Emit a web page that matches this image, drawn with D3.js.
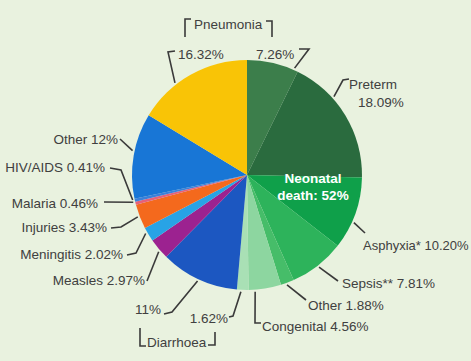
<!DOCTYPE html>
<html lang="en">
<head>
<meta charset="utf-8">
<title>Causes of child deaths</title>
<script src="https://cdn.jsdelivr.net/npm/d3@7"></script>
<style>
  html, body { margin: 0; padding: 0; background: #e9f2df; }
  text { font-family: "Liberation Sans", Arial, sans-serif; font-size: 13.5px; fill: #404040; }
</style>
</head>
<body>
<script>
// slices, clockwise from 12 o'clock
var causes = ["Pneumonia", "Preterm", "Asphyxia*", "Sepsis**", "Other", "Congenital", "Diarrhoea",
              "Diarrhoea", "Measles", "Meningitis", "Injuries", "Malaria", "HIV/AIDS", "Other", "Pneumonia"];
var shares = [7.26, 18.09, 10.20, 7.81, 1.88, 4.56, 1.62,
              11, 2.97, 2.02, 3.43, 0.46, 0.41, 12, 16.32];
var shareLabels = ["7.26%", "18.09%", "10.20%", "7.81%", "1.88%", "4.56%", "1.62%",
                   "11%", "2.97%", "2.02%", "3.43%", "0.46%", "0.41%", "12%", "16.32%"];
var colors = ["#3c7e4b", "#2a6b3e", "#0fa04a", "#2db35b", "#46bd69", "#8dd6a0", "#a9e0b5",
              "#1c57c1", "#9c2290", "#28a3e6", "#f4691d", "#e5617a", "#3b80da", "#1876d6", "#f9c406"];

var w = 471, h = 361;
var cx = 247, cy = 175, r = 115;

var svg = d3.select("body").append("svg")
    .attr("width", w)
    .attr("height", h);

var pie = d3.pie().sort(null).value(function (d) { return d; });
var arc = d3.arc().innerRadius(0).outerRadius(r);
var arcs = pie(shares);

var g = svg.append("g").attr("transform", "translate(" + cx + "," + cy + ")");

g.selectAll("path")
    .data(arcs)
    .enter()
    .append("path")
    .attr("d", arc)
    .attr("fill", function (d, i) { return colors[i]; });

// point on the rim, angle in degrees clockwise from top
function rim(deg, rad) {
    var a = deg * Math.PI / 180;
    return [cx + rad * Math.sin(a), cy - rad * Math.cos(a)];
}

// label layout: slice index, text spot, leader (rim angle + elbow points)
var labels = [
    {i: 14, text: [shareLabels[14]], x: 178, y: 54, anchor: "start", rim: 322, pts: [[168, 52], [175, 51]]},
    {i: 0, text: [shareLabels[0]], x: 256, y: 54, anchor: "start", rim: 24, pts: [[309, 49], [299, 49]]},
    {i: 1, text: [causes[1], shareLabels[1]], x: 349, y: 84, anchor: "start", rim: 48, pts: [[343, 80], [349, 79]]},
    {i: 2, text: [causes[2] + " " + shareLabels[2]], x: 363, y: 245, anchor: "start", rim: 114, pts: [[365, 233]], size: 13},
    {i: 3, text: [causes[3] + " " + shareLabels[3]], x: 342, y: 283, anchor: "start", rim: 142, pts: [[338, 281]]},
    {i: 4, text: [causes[4] + " " + shareLabels[4]], x: 308, y: 305, anchor: "start", rim: 160, pts: [[306, 300]]},
    {i: 5, text: [causes[5] + " " + shareLabels[5]], x: 262, y: 326, anchor: "start", rim: 176, pts: [[255, 323], [261, 323]]},
    {i: 6, text: [shareLabels[6]], x: 228, y: 318, anchor: "end", rim: 183, pts: [[233, 316], [229, 317]]},
    {i: 7, text: [shareLabels[7]], x: 161, y: 309, anchor: "end", rim: 205, pts: [[172, 312], [164, 314]]},
    {i: 8, text: [causes[8] + " " + shareLabels[8]], x: 145, y: 280, anchor: "end", rim: 229, pts: [[147, 281]]},
    {i: 9, text: [causes[9] + " " + shareLabels[9]], x: 123, y: 254, anchor: "end", rim: 240, pts: [[136, 253], [127, 255]]},
    {i: 10, text: [causes[10] + " " + shareLabels[10]], x: 107, y: 227, anchor: "end", rim: 249, pts: [[121, 227], [111, 228]]},
    {i: 11, text: [causes[11] + " " + shareLabels[11]], x: 98, y: 203, anchor: "end", rim: 256.5, pts: [[104, 202]]},
    {i: 12, text: [causes[12] + " " + shareLabels[12]], x: 105, y: 167, anchor: "end", rim: 257.7, pts: [[121, 170], [110, 168]]},
    {i: 13, text: [causes[13] + " " + shareLabels[13]], x: 118, y: 139, anchor: "end", rim: 282, pts: [[120, 139]]}
];

var line = d3.line();

svg.selectAll("path.leader")
    .data(labels)
    .enter()
    .append("path")
    .attr("class", "leader")
    .attr("d", function (d) { return line([rim(d.rim, r + 2)].concat(d.pts)); })
    .attr("fill", "none")
    .attr("stroke", "#3a3a3a")
    .attr("stroke-width", 1.6);

svg.selectAll("text.lab")
    .data(labels)
    .enter()
    .append("text")
    .attr("class", "lab")
    .attr("text-anchor", function (d) { return d.anchor; })
    .style("font-size", function (d) { return d.size ? d.size + "px" : null; })
    .each(function (d) {
        var t = d3.select(this);
        d.text.forEach(function (s, k) {
            t.append("tspan")
                .attr("x", d.x + (k > 0 ? 9 : 0))
                .attr("y", d.y + k * 18)
                .attr("dy", "0.35em")
                .text(s);
        });
    });

// group brackets
var brackets = [
    {text: "Pneumonia", x: 194, y: 24, left: [[185, 37], [185, 19], [191, 19]], right: [[266, 21], [272, 21], [272, 37]]},
    {text: "Diarrhoea", x: 147, y: 342, left: [[140, 328], [140, 346], [146, 346]], right: [[208, 345], [215, 345], [215, 332]]}
];

brackets.forEach(function (b) {
    svg.append("path").attr("d", line(b.left)).attr("fill", "none").attr("stroke", "#3a3a3a").attr("stroke-width", 1.6);
    svg.append("path").attr("d", line(b.right)).attr("fill", "none").attr("stroke", "#3a3a3a").attr("stroke-width", 1.6);
    svg.append("text").attr("x", b.x).attr("y", b.y).attr("dy", "0.35em").text(b.text);
});

// centre caption over the neonatal half
var caption = svg.append("text")
    .attr("text-anchor", "middle")
    .style("font-weight", "bold")
    .style("fill", "#ffffff");
caption.append("tspan").attr("x", 313).attr("y", 178).attr("dy", "0.35em").text("Neonatal");
caption.append("tspan").attr("x", 313).attr("y", 195).attr("dy", "0.35em").text("death: 52%");
</script>
</body>
</html>
